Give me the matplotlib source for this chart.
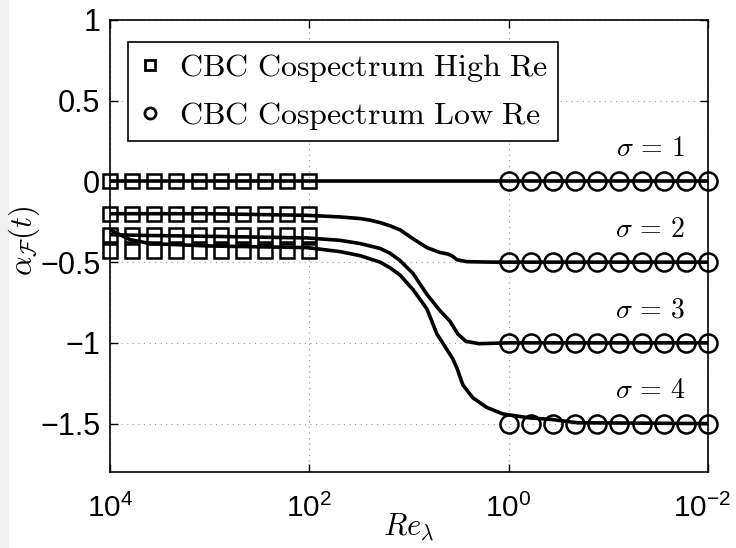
import matplotlib
matplotlib.use('Agg')
import matplotlib.pyplot as plt
import matplotlib.transforms as mtransforms
from matplotlib.lines import Line2D
from matplotlib.patches import Rectangle
from matplotlib.ticker import FixedLocator, NullLocator

plt.rcParams['mathtext.fontset'] = 'cm'
plt.rcParams['font.family'] = ['Liberation Sans', 'DejaVu Sans']

# markers: high Re (squares) and low Re (circles), log10(Re) positions
high_logre = [4.0, 3.778, 3.556, 3.333, 3.111, 2.889, 2.667, 2.444, 2.222, 2.0]
low_logre = [0.0, -0.222, -0.444, -0.667, -0.889, -1.111, -1.333, -1.556, -1.778, -2.0]
high_vals = [0.0, -0.2, -0.333, -0.4286]   # sigma = 1..4
low_vals = [0.0, -0.5, -1.0, -1.5]

# model curves (log10 Re, alpha)
s1_x = [4.0, -2.0]
s1_y = [0.0, 0.0]
s2_x = [4.0, 3.0, 2.02, 1.69, 1.49, 1.39, 1.29, 1.19, 1.09, 0.96, 0.82, 0.69, 0.61, 0.57, 0.52, 0.42, 0.16, -2.0]
s2_y = [-0.20, -0.20, -0.21, -0.22, -0.23, -0.24, -0.255, -0.275, -0.30, -0.355, -0.41, -0.44, -0.45, -0.46, -0.485, -0.497, -0.50, -0.50]
s3_x = [4.0, 3.6, 3.0, 2.02, 1.69, 1.49, 1.29, 1.19, 1.09, 0.96, 0.82, 0.69, 0.59, 0.56, 0.51, 0.43, 0.30, 0.0, -2.0]
s3_y = [-0.33, -0.335, -0.34, -0.35, -0.365, -0.385, -0.415, -0.445, -0.49, -0.57, -0.70, -0.80, -0.865, -0.895, -0.945, -0.99, -1.005, -1.0, -1.0]
s4_x = [4.0, 3.8, 3.6, 3.0, 2.02, 1.69, 1.49, 1.29, 1.19, 1.09, 0.96, 0.82, 0.72, 0.59, 0.56, 0.52, 0.46, 0.36, 0.22, 0.06, -0.21, -0.44, -0.69, -2.0]
s4_y = [-0.30, -0.36, -0.385, -0.40, -0.41, -0.435, -0.46, -0.50, -0.535, -0.58, -0.67, -0.79, -0.945, -1.07, -1.10, -1.155, -1.26, -1.34, -1.40, -1.44, -1.465, -1.475, -1.495, -1.50]

sigma_labels = [r'$\sigma\,=\,1$', r'$\sigma\,=\,2$', r'$\sigma\,=\,3$', r'$\sigma\,=\,4$']

xticks = [1e4, 1e2, 1e0, 1e-2]
xticklabels = [r'$\mathdefault{10^{4}}$', r'$\mathdefault{10^{2}}$',
               r'$\mathdefault{10^{0}}$', r'$\mathdefault{10^{-2}}$']
yticks = [1, 0.5, 0, -0.5, -1, -1.5]
yticklabels = ['1', '0.5', '0', '\u22120.5', '\u22121', '\u22121.5']


def pw(v):
    return [10 ** a for a in v]


fig = plt.figure(figsize=(7.36, 5.48), dpi=100)
fig.patches.append(Rectangle((0, 0), 8 / 736, 1, transform=fig.transFigure,
                             color='#f0f0f0', zorder=-10))
ax = fig.add_axes([110 / 736, 1 - 472 / 548, 598 / 736, 452 / 548])

for cx, cy in [(s1_x, s1_y), (s2_x, s2_y), (s3_x, s3_y), (s4_x, s4_y)]:
    ax.plot(pw(cx), cy, color='black', lw=2.6, solid_joinstyle='round', zorder=3)

for v in high_vals:
    ax.plot(pw(high_logre), [v] * len(high_logre), ls='none', marker='s', ms=10,
            mfc='none', mec='black', mew=1.8, zorder=4, clip_on=False)
for v in low_vals:
    ax.plot(pw(low_logre), [v] * len(low_logre), ls='none', marker='o', ms=13,
            mfc='none', mec='black', mew=1.8, zorder=4, clip_on=False)

for lab, v in zip(sigma_labels, low_vals):
    ax.text(10 ** -1.77, v + 0.2, lab, ha='right', va='center', fontsize=20)

ax.set_xscale('log')
ax.set_xlim(1e4, 1e-2)
ax.set_ylim(-1.8, 1)
ax.xaxis.set_major_locator(FixedLocator(xticks))
ax.xaxis.set_minor_locator(NullLocator())
ax.set_xticklabels(xticklabels)
ax.set_yticks(yticks)
ax.set_yticklabels(yticklabels)
ax.tick_params(direction='in', labelsize=22, length=6, top=True, right=True, width=1)
ax.tick_params(axis='x', pad=16, labelsize=21.5)
ax.tick_params(axis='y', pad=7)
ax.grid(True, ls=(0, (1, 4)), color='#999999', lw=0.8)
for sp in ax.spines.values():
    sp.set_linewidth(1.2)

# last tick label sits a bit left of its tick so it stays inside the figure
last = ax.get_xticklabels()[-1]
last.set_transform(last.get_transform() +
                   mtransforms.ScaledTranslation(-0.06, 0, fig.dpi_scale_trans))

ax.set_xlabel(r'$Re_{\lambda}$', fontsize=22, labelpad=-8)
fig.text(24 / 736, 1 - 241 / 548, r'$\alpha_{\mathcal{F}}(t)$', fontsize=22,
         rotation=90, ha='center', va='center')

handles = [Line2D([], [], ls='none', marker='s', ms=7, mfc='none', mec='black', mew=2),
           Line2D([], [], ls='none', marker='o', ms=8, mfc='none', mec='black', mew=2)]
labels = [r'$\mathrm{CBC\ Cospectrum\ High\ Re}$', r'$\mathrm{CBC\ Cospectrum\ Low\ Re}$']
leg = ax.legend(handles, labels, loc='upper left', bbox_to_anchor=(0.03, 0.951),
                borderaxespad=0, fontsize=23, handlelength=0.8, handletextpad=0.5,
                fancybox=False, framealpha=1, edgecolor='black', labelspacing=0.5,
                borderpad=0.3)
leg.get_frame().set_linewidth(1.2)

fig.savefig('out.png', dpi=100)
